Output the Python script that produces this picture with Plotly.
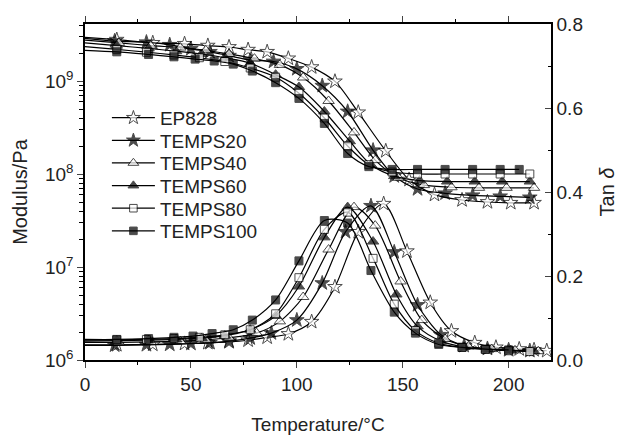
import plotly.graph_objects as go

# ---------------- data ----------------
names = ["EP828", "TEMPS20", "TEMPS40", "TEMPS60", "TEMPS80", "TEMPS100"]
symbols = ["star", "star", "triangle-up", "triangle-up", "square", "square"]
filled = [False, True, False, True, False, True]
msizes = [11, 11, 10, 10, 8, 8]

# storage modulus (Pa) vs temperature (°C)
mod_T = {
    "EP828":    [0, 15, 32, 47, 58, 68, 77, 86, 96, 107, 118, 129, 142, 153, 165, 178, 190, 201, 212],
    "TEMPS20":  [0, 14, 29, 40, 50, 59, 68, 78, 89, 100, 112, 124, 136, 146, 157, 170, 183, 196, 210],
    "TEMPS40":  [0, 16, 31, 45, 57, 68, 80, 92, 103, 115, 127, 137, 148, 160, 173, 186, 199, 212],
    "TEMPS60":  [0, 15, 30, 43, 55, 66, 78, 90, 101, 113, 125, 135, 146, 158, 171, 184, 197, 210],
    "TEMPS80":  [0, 15, 29, 42, 54, 66, 78, 90, 101, 113, 124, 134, 145, 157, 170, 183, 196, 210],
    "TEMPS100": [0, 15, 30, 42, 52, 61, 70, 79, 90, 101, 113, 124, 134, 145, 157, 170, 183, 196, 205],
}
mod_E = {
    "EP828":    [2.95e9, 2.78e9, 2.57e9, 2.51e9, 2.40e9, 2.32e9, 2.17e9, 2.06e9, 1.75e9, 1.41e9, 9.9e8,
                 4.6e8, 1.77e8, 8.7e7, 6.0e7, 5.25e7, 5.0e7, 4.9e7, 4.9e7],
    "TEMPS20":  [2.88e9, 2.69e9, 2.61e9, 2.45e9, 2.22e9, 2.06e9, 1.87e9, 1.68e9, 1.62e9, 1.35e9, 8.9e8,
                 4.7e8, 1.8e8, 9.5e7, 6.9e7, 6.2e7, 5.9e7, 5.75e7, 5.6e7],
    "TEMPS40":  [2.75e9, 2.57e9, 2.40e9, 2.29e9, 2.14e9, 1.95e9, 1.74e9, 1.49e9, 1.09e9, 6.1e8, 2.8e8,
                 1.41e8, 9.1e7, 7.6e7, 7.2e7, 7.1e7, 7.1e7, 7.1e7],
    "TEMPS60":  [2.57e9, 2.40e9, 2.24e9, 2.09e9, 1.95e9, 1.78e9, 1.55e9, 1.17e9, 8.6e8, 4.7e8, 2.25e8,
                 1.26e8, 9.5e7, 8.5e7, 8.3e7, 8.3e7, 8.3e7, 8.3e7],
    "TEMPS80":  [2.34e9, 2.19e9, 2.04e9, 1.91e9, 1.78e9, 1.62e9, 1.38e9, 1.10e9, 7.4e8, 4.0e8, 2.0e8,
                 1.26e8, 1.05e8, 1.0e8, 1.0e8, 1.0e8, 1.0e8, 1.0e8],
    "TEMPS100": [2.14e9, 2.06e9, 1.93e9, 1.82e9, 1.72e9, 1.64e9, 1.52e9, 1.28e9, 9.6e8, 6.5e8, 3.5e8,
                 1.66e8, 1.2e8, 1.12e8, 1.12e8, 1.12e8, 1.12e8, 1.12e8, 1.12e8],
}

# loss factor tan delta vs temperature (°C)
tan_T = {
    "EP828":    [0, 15, 32, 47, 58, 68, 77, 86, 96, 107, 118, 129, 141, 152, 163, 173, 184, 194, 205, 212, 218],
    "TEMPS20":  [0, 14, 29, 40, 50, 59, 68, 78, 88, 100, 112, 123, 135, 146, 157, 168, 179, 190, 200, 210],
    "TEMPS40":  [0, 16, 31, 45, 57, 68, 81, 92, 103, 115, 127, 137, 149, 159, 170, 181, 192, 203, 214],
    "TEMPS60":  [0, 15, 30, 43, 55, 66, 78, 90, 101, 113, 124, 136, 147, 157, 168, 179, 190, 201, 212],
    "TEMPS80":  [0, 15, 29, 42, 54, 66, 78, 90, 101, 113, 124, 136, 146, 156, 167, 178, 189, 200, 210],
    "TEMPS100": [0, 15, 30, 42, 51, 60, 70, 79, 90, 101, 113, 124, 135, 146, 156, 167, 178, 189, 200],
}
tan_D = {
    "EP828":    [0.036, 0.036, 0.037, 0.039, 0.041, 0.043, 0.047, 0.054, 0.062, 0.091, 0.174, 0.305, 0.372,
                 0.259, 0.137, 0.069, 0.041, 0.030, 0.026, 0.024, 0.022],
    "TEMPS20":  [0.035, 0.035, 0.036, 0.037, 0.039, 0.041, 0.045, 0.052, 0.064, 0.095, 0.183, 0.305, 0.367,
                 0.257, 0.131, 0.060, 0.034, 0.027, 0.024, 0.022],
    "TEMPS40":  [0.042, 0.042, 0.043, 0.045, 0.048, 0.053, 0.064, 0.092, 0.150, 0.263, 0.364, 0.320, 0.187,
                 0.095, 0.050, 0.032, 0.026, 0.023, 0.021],
    "TEMPS60":  [0.045, 0.046, 0.047, 0.049, 0.052, 0.058, 0.072, 0.105, 0.175, 0.292, 0.364, 0.282, 0.156,
                 0.080, 0.045, 0.031, 0.026, 0.023, 0.021],
    "TEMPS80":  [0.047, 0.048, 0.049, 0.051, 0.054, 0.060, 0.072, 0.110, 0.196, 0.311, 0.352, 0.242, 0.133,
                 0.070, 0.040, 0.030, 0.025, 0.022, 0.020],
    "TEMPS100": [0.049, 0.049, 0.051, 0.054, 0.057, 0.063, 0.072, 0.095, 0.143, 0.236, 0.332, 0.326, 0.213,
                 0.114, 0.064, 0.037, 0.030, 0.026, 0.024],
}

x_ticks = [0, 50, 100, 150, 200]
tan_ticks = [0.0, 0.2, 0.4, 0.6, 0.8]
mod_ticks = [1e6, 1e7, 1e8, 1e9]
mod_tick_text = ["10<sup>6</sup>", "10<sup>7</sup>", "10<sup>8</sup>", "10<sup>9</sup>"]

FONT = "Liberation Sans, Arial, sans-serif"
fig = go.Figure()

legend_ids = ["legend"] + ["legend%d" % (i + 2) for i in range(len(names) - 1)]

for name, sym, fil, ms, lid in zip(names, symbols, filled, msizes, legend_ids):
    mcol = "black" if fil else "white"
    for kind in ("mod", "tan"):
        xs = mod_T[name] if kind == "mod" else tan_T[name]
        ys = mod_E[name] if kind == "mod" else tan_D[name]
        sizes = [0] + [ms] * (len(xs) - 1)
        fig.add_trace(go.Scatter(
            x=xs, y=ys, name=name, legendgroup=name, legend=lid,
            showlegend=(kind == "mod"),
            yaxis="y" if kind == "mod" else "y2",
            mode="lines+markers",
            line=dict(color="black", width=1.2, shape="spline", smoothing=0.8),
            marker=dict(symbol=sym, size=sizes, color=mcol,
                        line=dict(color="black", width=1)),
        ))

# one single-entry legend per series so the rows can be spaced like the reference
plot_top, plot_bot = 24, 373
row0, row_gap = 121.5, 23.5
legend_layouts = {}
for i, lid in enumerate(legend_ids):
    yc = row0 + i * row_gap
    legend_layouts[lid] = dict(
        x=0.047, y=(plot_bot - yc) / (plot_bot - plot_top),
        xanchor="left", yanchor="middle",
        bgcolor="rgba(0,0,0,0)", font=dict(size=19, family=FONT, color="#222"),
        itemwidth=43,
    )

fig.update_layout(
    width=627, height=444,
    margin=dict(l=85, r=74, t=24, b=71),
    paper_bgcolor="white", plot_bgcolor="white",
    font=dict(family=FONT, size=19, color="#222"),
    showlegend=True,
    xaxis=dict(range=[0, 220], tickvals=x_ticks, ticks="outside", ticklen=6,
               tickwidth=1.2, showline=True, linecolor="black", linewidth=1.5,
               mirror="ticks", showgrid=False, zeroline=False,
               minor=dict(dtick=25, ticks="outside", ticklen=3, tickcolor="black"),
               title=dict(text="Temperature/°C", standoff=24, font=dict(size=19))),
    yaxis=dict(type="log", range=[6, 9.613], tickvals=mod_ticks, ticktext=mod_tick_text,
               ticks="outside", ticklen=6, tickwidth=1.2, showline=True,
               linecolor="black", linewidth=1.5, showgrid=False, zeroline=False,
               minor=dict(ticks="outside", ticklen=4, tickcolor="black", dtick="D1"),
               title=dict(text="Modulus/Pa", standoff=12, font=dict(size=20))),
    yaxis2=dict(overlaying="y", side="right", range=[0, 0.8], tickvals=tan_ticks,
                tickformat=".1f", ticks="inside", ticklen=6, tickwidth=1.2,
                showline=True, linecolor="black", linewidth=1.5, showgrid=False,
                zeroline=False,
                minor=dict(dtick=0.1, ticks="inside", ticklen=3, tickcolor="black"),
                title=dict(text="Tan <i>δ</i>", standoff=18, font=dict(size=20))),
    **legend_layouts,
)

fig.write_html("out.html")
